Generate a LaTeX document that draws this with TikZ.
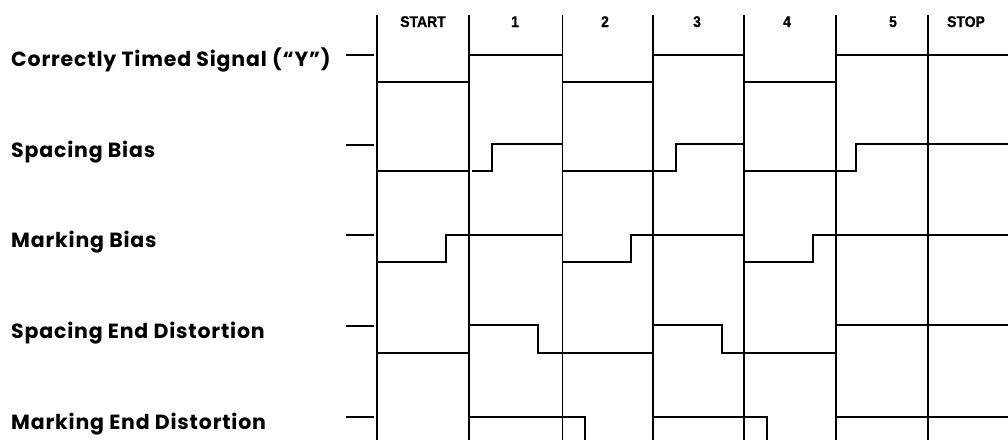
\documentclass[tikz,border=0pt]{standalone}
\usepackage{fontspec}
\setmainfont[LetterSpace=4]{Poppins}
\newfontfamily\hdrfont[FakeStretch=0.9,BoldFeatures={FakeBold=0.6}]{Liberation Sans}
\begin{document}
\begin{tikzpicture}[x=1pt,y=-1pt,
  rowlabel/.style={anchor=base west,inner sep=0pt,font=\fontsize{20.5}{20.5}\selectfont\bfseries},
  hdr/.style={anchor=base,inner sep=0pt,font=\hdrfont\fontsize{15.5}{15.5}\selectfont\bfseries},
  grid/.style={line width=1.2pt,black},
  sig/.style={line width=2pt,black,line join=miter},
  sigthick/.style={line width=2.8pt,black},
  sigthin/.style={line width=1.5pt,black},
  tick/.style={line width=2pt,black}]
\useasboundingbox (0,0) rectangle (1008,440);
% grid
\foreach \x/\w [count=\i] in {377/1.3,469/1.2,562/1.0,653/1.5,744/1.5,836/1.5,928/2.0}{
  \coordinate (gt\i) at (\x,15);
  \coordinate (gb\i) at (\x,440);
  \draw[grid,line width=\w pt] (gt\i) -- (gb\i);
}
% header labels
\node[hdr] (hstart) at (423,27) {START};
\node[hdr] (h1) at (515,27) {1};
\node[hdr] (h2) at (605,27) {2};
\node[hdr] (h3) at (697,27) {3};
\node[hdr] (h4) at (787,27) {4};
\node[hdr] (h5) at (893,27) {5};
\node[hdr] (hstop) at (966,27) {STOP};
% row labels
\node[rowlabel] (l1) at (11,66) {Correctly Timed Signal (``Y'')};
\node[rowlabel] (l2) at (11,157) {Spacing Bias};
\node[rowlabel] (l3) at (11,247) {Marking Bias};
\node[rowlabel] (l4) at (11,338) {Spacing End Distortion};
\node[rowlabel] (l5) at (11,429) {Marking End Distortion};
% idle ticks
\foreach \y [count=\i] in {55,144.5,234.5,325.5,416.5}{
  \coordinate (ta\i) at (346,\y);
  \coordinate (tb\i) at (374,\y);
  \draw[tick] (ta\i) -- (tb\i);
}
% Row 1: correctly timed
\draw[sigthin] (377,82) -- (469,82);
\draw[sigthick] (469,55) -- (562,55);
\draw[sigthin] (562,82) -- (653,82);
\draw[sigthick] (653,55) -- (744,55);
\draw[sigthin] (744,82) -- (836,82);
\draw[sigthick] (836,55) -- (1008,55);
% Row 2: spacing bias
\draw[sigthin] (377,171) -- (469,171);
\draw[sig] (472,171) -- (492,171) -- (492,144) -- (562,144);
\draw[sig] (562,171) -- (676,171) -- (676,144) -- (744,144);
\draw[sig] (744,171) -- (856,171) -- (856,144) -- (1008,144);
% Row 3: marking bias
\draw[sig] (377,262) -- (446,262) -- (446,234.5) -- (562,234.5);
\draw[sig] (562,262) -- (631,262) -- (631,234.5) -- (744,234.5);
\draw[sig] (744,262) -- (813,262) -- (813,234.5) -- (1008,234.5);
% Row 4: spacing end distortion
\draw[sig] (377,353) -- (469,353);
\draw[sig] (469,325) -- (538,325) -- (538,353) -- (653,353);
\draw[sig] (653,325) -- (722,325) -- (722,353) -- (836,353);
\draw[sig] (836,325) -- (1008,325);
% Row 5: marking end distortion
\draw[sig] (469,416.5) -- (585,416.5) -- (585,440);
\draw[sig] (653,416.5) -- (767,416.5) -- (767,440);
\draw[sig] (836,416.5) -- (1008,416.5);
\end{tikzpicture}
\end{document}
